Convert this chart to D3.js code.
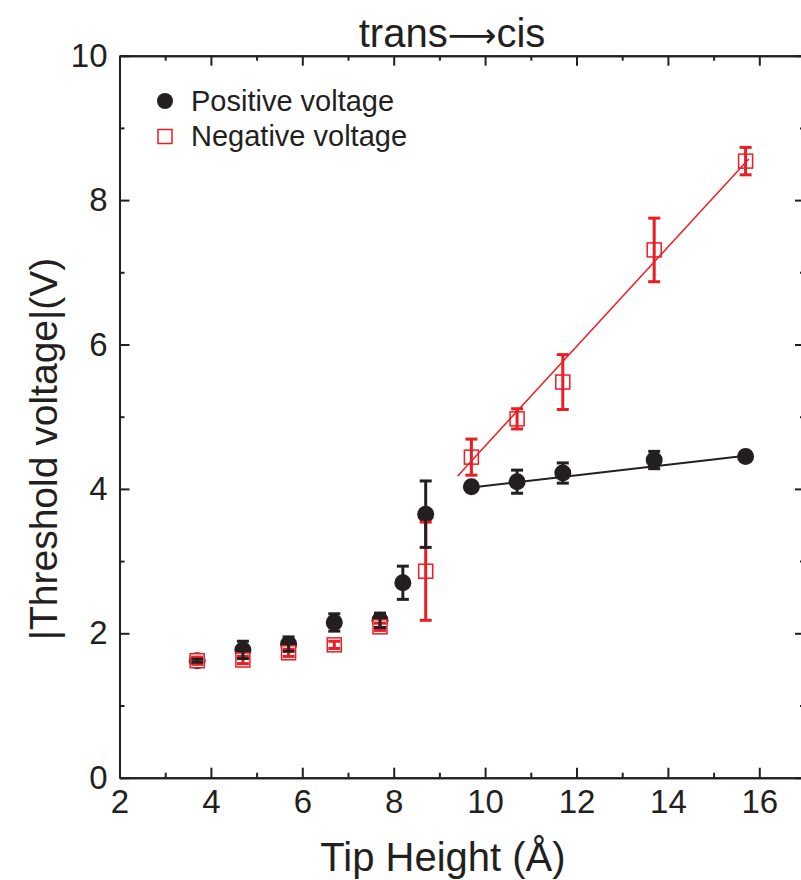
<!DOCTYPE html>
<html>
<head>
<meta charset="utf-8">
<script src="https://d3js.org/d3.v7.min.js"></script>
<style>
  body { margin: 0; background: #fff; }
  text { font-family: "Liberation Sans", Arial, sans-serif; fill: #231f20; }
</style>
</head>
<body>
<div id="chart_area"></div>
<script>
// data
let tipHeight = [3.7, 4.7, 5.7, 6.7, 7.7, 8.2, 8.7, 9.7, 10.7, 11.7, 13.7, 15.7];
let posVoltage = [1.62, 1.77, 1.85, 2.15, 2.18, 2.70, 3.65, 4.03, 4.10, 4.22, 4.40, 4.45];
let posError = [0.02, 0.12, 0.10, 0.12, 0.10, 0.23, 0.46, 0.04, 0.16, 0.14, 0.12, 0.04];

let tipHeightNeg = [3.7, 4.7, 5.7, 6.7, 7.7, 8.7, 9.7, 10.7, 11.7, 13.7, 15.7];
let negVoltage = [1.62, 1.63, 1.73, 1.84, 2.09, 2.86, 4.44, 4.97, 5.48, 7.31, 8.54];
let negError = [0.05, 0.05, 0.05, 0.05, 0.05, 0.68, 0.25, 0.14, 0.38, 0.44, 0.19];

// linear fits (end points)
let posFitX = [9.7, 15.7];
let posFitY = [4.02, 4.46];
let negFitX = [9.4, 15.77];
let negFitY = [4.18, 8.57];

let xTicks = [2, 4, 6, 8, 10, 12, 14, 16];
let xMinor = [3, 5, 7, 9, 11, 13, 15, 17];
let yTicks = [0, 2, 4, 6, 8, 10];
let yMinor = [1, 3, 5, 7, 9];

let width = 801, height = 880;
let plotL = 119.5, plotR = 805, plotT = 55.7, plotB = 777.7;
let black = "#231f20", red = "#ed1c24";

let svg = d3.select("#chart_area").append("svg")
    .attr("width", width)
    .attr("height", height);

let x = d3.scaleLinear().domain([2, 17]).range([plotL, plotR]);
let y = d3.scaleLinear().domain([0, 10]).range([plotB, plotT]);

function styleAxis(g) {
    g.select(".domain").attr("stroke", black).attr("stroke-width", 2);
    g.selectAll(".tick line").attr("stroke", black).attr("stroke-width", 2);
}

// bottom
svg.append("g").attr("transform", `translate(0,${plotB})`)
    .call(d3.axisBottom(x).tickValues(xMinor).tickSize(-5).tickFormat("").tickSizeOuter(0))
    .call(styleAxis);
let bx = svg.append("g").attr("transform", `translate(0,${plotB})`)
    .call(d3.axisBottom(x).tickValues(xTicks).tickSize(-10).tickPadding(12).tickSizeOuter(0))
    .call(styleAxis);
bx.selectAll("text").style("font-size", "33px").attr("fill", black);

// top
svg.append("g").attr("transform", `translate(0,${plotT})`)
    .call(d3.axisTop(x).tickValues(xMinor).tickSize(-5).tickFormat("").tickSizeOuter(0))
    .call(styleAxis);
svg.append("g").attr("transform", `translate(0,${plotT})`)
    .call(d3.axisTop(x).tickValues(xTicks).tickSize(-10).tickFormat("").tickSizeOuter(0))
    .call(styleAxis);

// left
svg.append("g").attr("transform", `translate(${plotL},0)`)
    .call(d3.axisLeft(y).tickValues(yMinor).tickSize(-5).tickFormat("").tickSizeOuter(0))
    .call(styleAxis);
let ly = svg.append("g").attr("transform", `translate(${plotL},0)`)
    .call(d3.axisLeft(y).tickValues(yTicks).tickSize(-10).tickPadding(12).tickSizeOuter(0))
    .call(styleAxis);
ly.selectAll("text").style("font-size", "33px").attr("fill", black);

// right
svg.append("g").attr("transform", `translate(${plotR},0)`)
    .call(d3.axisRight(y).tickValues(yMinor).tickSize(-5).tickFormat("").tickSizeOuter(0))
    .call(styleAxis);
svg.append("g").attr("transform", `translate(${plotR},0)`)
    .call(d3.axisRight(y).tickValues(yTicks).tickSize(-10).tickFormat("").tickSizeOuter(0))
    .call(styleAxis);

let pos = tipHeight.map((t, i) => ({x: t, y: posVoltage[i], e: posError[i]}));
let neg = tipHeightNeg.map((t, i) => ({x: t, y: negVoltage[i], e: negError[i]}));

// markers
svg.selectAll(".pos")
    .data(pos)
    .join("circle")
    .attr("class", "pos")
    .attr("cx", d => x(d.x))
    .attr("cy", d => y(d.y))
    .attr("r", 8.5)
    .attr("fill", black);

svg.selectAll(".neg")
    .data(neg)
    .join("rect")
    .attr("class", "neg")
    .attr("x", d => x(d.x) - 7)
    .attr("y", d => y(d.y) - 7)
    .attr("width", 14)
    .attr("height", 14)
    .attr("fill", "#fff")
    .attr("stroke", red)
    .attr("stroke-width", 1.5);

// error bars
function errorBars(data, color, cls) {
    let g = svg.append("g").attr("class", cls);
    let bars = g.selectAll("g").data(data).join("g");
    bars.append("line")
        .attr("x1", d => x(d.x)).attr("x2", d => x(d.x))
        .attr("y1", d => y(d.y - d.e)).attr("y2", d => y(d.y + d.e))
        .attr("stroke", color).attr("stroke-width", 3);
    [-1, 1].forEach(s => {
        bars.append("line")
            .attr("x1", d => x(d.x) - 6).attr("x2", d => x(d.x) + 6)
            .attr("y1", d => y(d.y + s * d.e)).attr("y2", d => y(d.y + s * d.e))
            .attr("stroke", color).attr("stroke-width", 3);
    });
}
errorBars(neg, red, "negerr");
errorBars(pos, black, "poserr");

// fit lines
let line = d3.line().x(d => x(d[0])).y(d => y(d[1]));
svg.append("path")
    .datum(posFitX.map((v, i) => [v, posFitY[i]]))
    .attr("d", line).attr("fill", "none")
    .attr("stroke", black).attr("stroke-width", 2);
svg.append("path")
    .datum(negFitX.map((v, i) => [v, negFitY[i]]))
    .attr("d", line).attr("fill", "none")
    .attr("stroke", red).attr("stroke-width", 1.5);

// legend
svg.append("circle").attr("cx", 165).attr("cy", 101).attr("r", 8).attr("fill", black);
svg.append("text").attr("x", 191).attr("y", 111).style("font-size", "29px").text("Positive voltage");
svg.append("rect").attr("x", 158).attr("y", 129.5).attr("width", 14).attr("height", 14)
    .attr("fill", "#fff").attr("stroke", red).attr("stroke-width", 1.5);
svg.append("text").attr("x", 191).attr("y", 146).style("font-size", "29px").text("Negative voltage");

// title and axis labels
let title = svg.append("text").attr("x", 452).attr("y", 47).attr("text-anchor", "middle")
    .style("font-size", "40px");
title.append("tspan").text("trans");
title.append("tspan").style("font-family", "DejaVu Sans").style("font-size", "34px").text("\u27f6");
title.append("tspan").text("cis");
svg.append("text").attr("x", 443).attr("y", 871).attr("text-anchor", "middle")
    .style("font-size", "40px").text("Tip Height (\u00c5)");
svg.append("text").attr("transform", "translate(57,449) rotate(-90)")
    .attr("text-anchor", "middle")
    .style("font-size", "39px").text("|Threshold voltage|(V)");
</script>
</body>
</html>
